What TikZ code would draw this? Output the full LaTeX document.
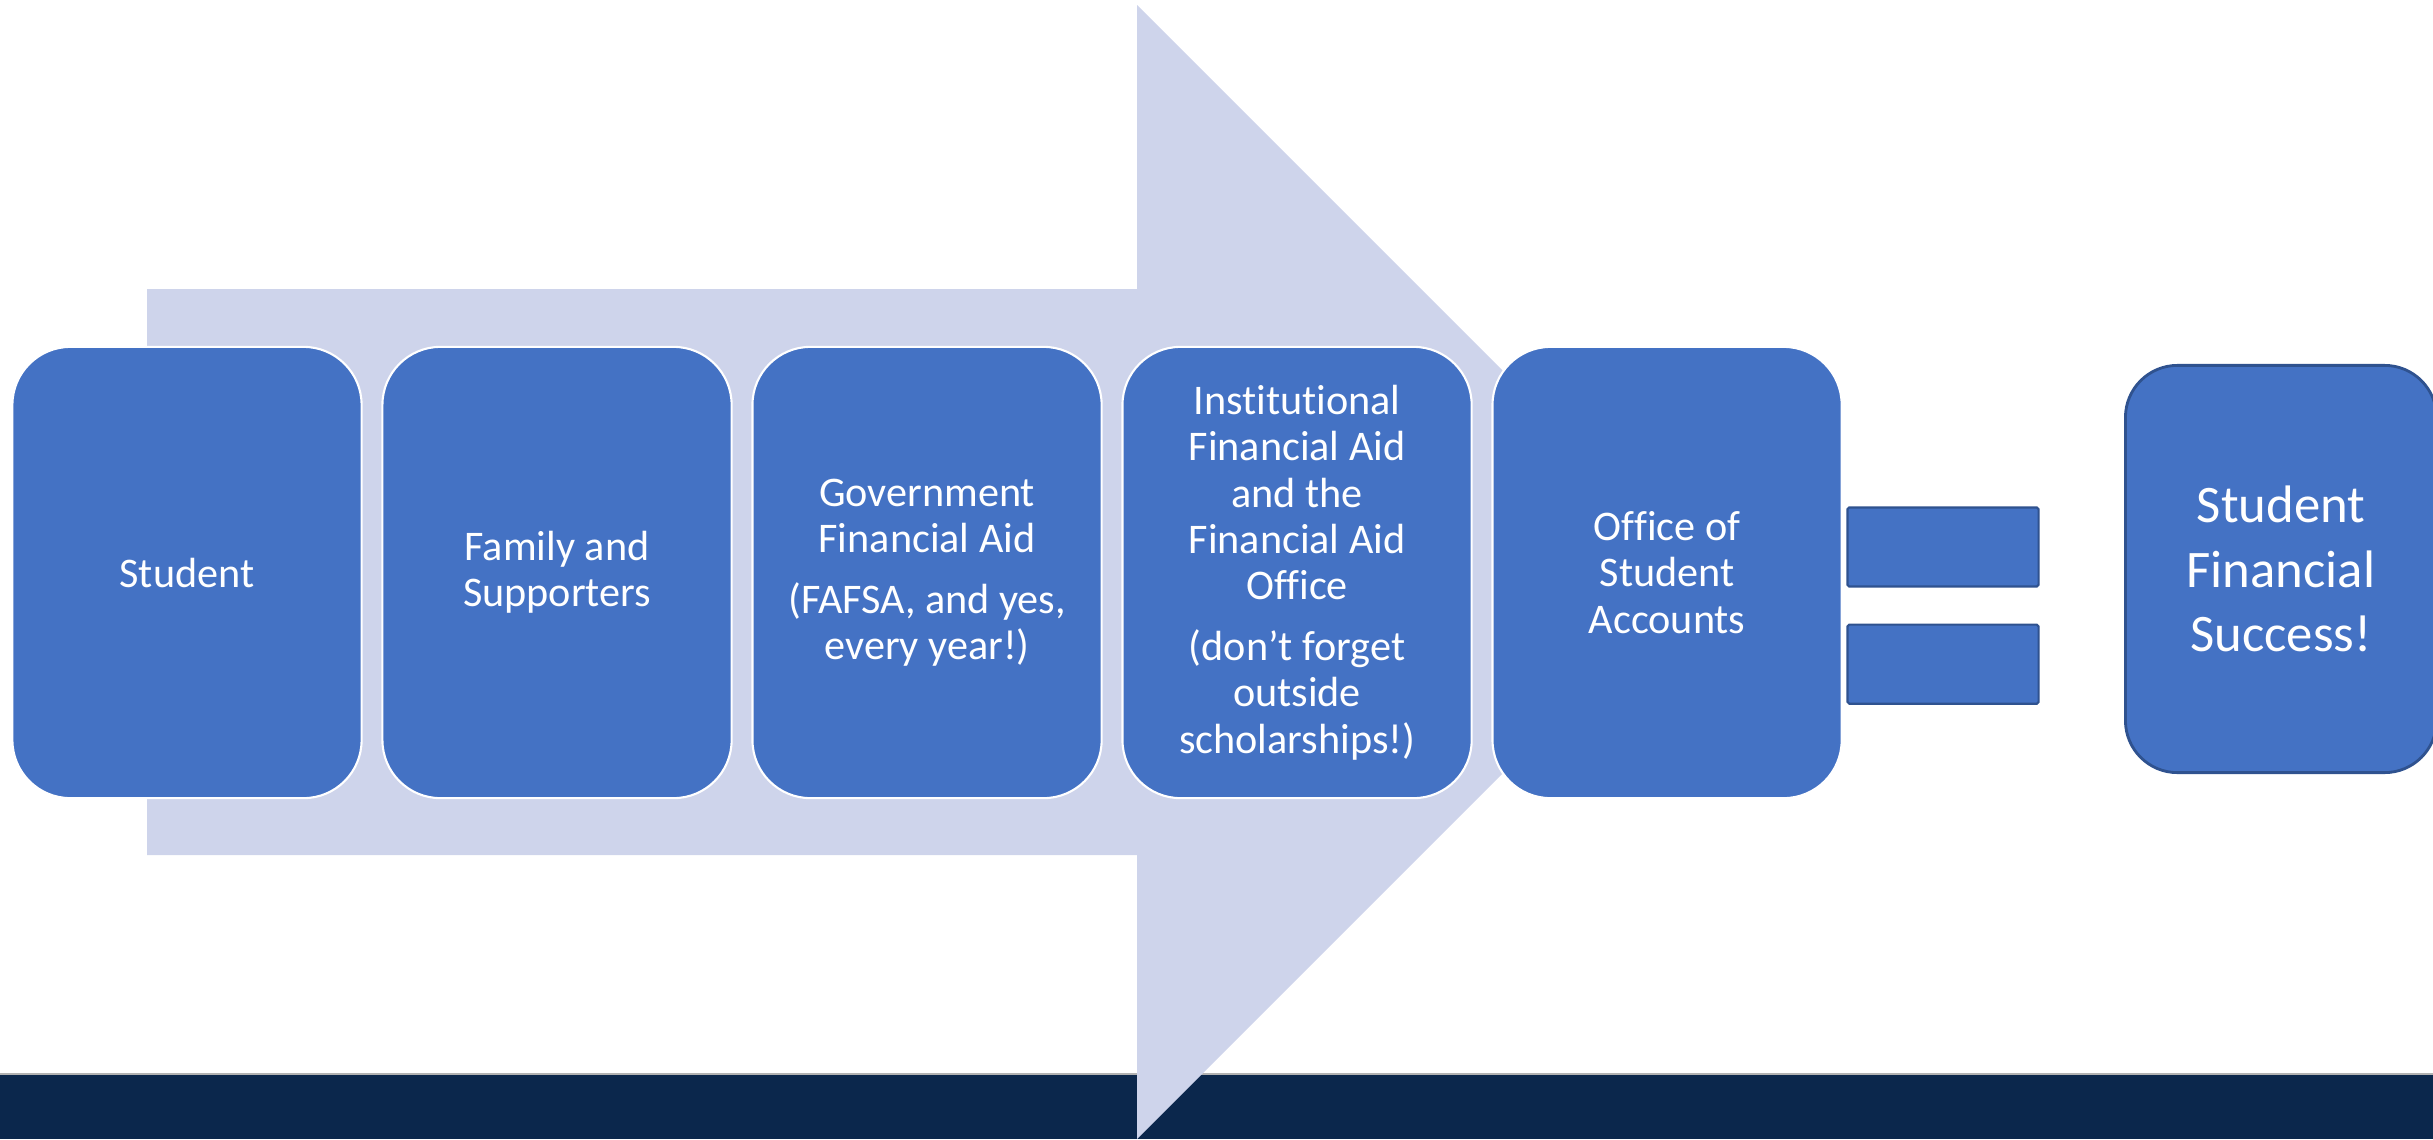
\documentclass[tikz,border=0pt]{standalone}
\usepackage{fontspec}
\setmainfont{Carlito}[Ligatures=NoCommon]
\usepackage{tikz}
\usetikzlibrary{positioning}
\definecolor{boxblue}{RGB}{68,114,196}
\definecolor{boxedge}{RGB}{47,82,143}
\definecolor{arrowfill}{RGB}{206,212,235}
\definecolor{bandnavy}{RGB}{11,39,76}
\tikzset{
    %Define style for the step boxes
    stepbox/.style={
           rectangle,
           rounded corners=0.58cm,
           draw=white, line width=0.6pt,
           fill=boxblue,
           minimum width=3.49cm,
           minimum height=4.51cm,
           inner sep=0pt,
           text=white,
           align=center,
           font={\fontsize{12}{13.2}\selectfont},
           },
    %Define style for the equals bars
    barbox/.style={
           rectangle,
           rounded corners=0.5pt,
           draw=boxedge, line width=0.6pt,
           fill=boxblue,
           minimum width=1.91cm,
           minimum height=0.79cm,
           inner sep=0pt,
           },
    %Define style for the result box
    goalbox/.style={
           rectangle,
           rounded corners=0.52cm,
           draw=boxedge, line width=0.8pt,
           fill=boxblue,
           minimum width=3.11cm,
           minimum height=4.07cm,
           inner sep=0pt,
           text=white,
           align=center,
           font={\fontsize{15}{18.3}\selectfont},
           },
}
\begin{document}
\begin{tikzpicture}[x=0.01cm,y=-0.01cm,node distance=0.187cm]
\useasboundingbox (0,0) rectangle (2433,1139);
\clip (0,0) rectangle (2433,1139);
% footer band and big arrow
\fill[bandnavy] (0,1074) rectangle (2433,1139);
\draw[gray!60, line width=0.5pt] (0,1074) -- (2433,1074);
\fill[arrowfill] (147,289) -- (1137,289) -- (1137,5) -- (1704,572)
    -- (1137,1139) -- (1137,855) -- (147,855) -- cycle;
% steps
\node[stepbox] (stud) at (187,572.5) {Student};
\node[stepbox, right=of stud] (fam) {Family and\\Supporters};
\node[stepbox, right=of fam] (gov) {Government\\Financial Aid\\[4pt](FAFSA, and yes,\\every year!)};
\node[stepbox, right=of gov] (inst) {Institutional\\Financial Aid\\and the\\Financial Aid\\Office\\[4pt](don’t forget\\outside\\scholarships!)};
\node[stepbox, right=of inst] (acct) {Office of\\Student\\Accounts};
% equals sign and result
\node[barbox] (eqa) at (1943,547) {};
\node[barbox, below=0.36cm of eqa] (eqb) {};
\node[goalbox] (succ) at (2281,569) {Student\\Financial\\Success!};
\end{tikzpicture}
\end{document}
